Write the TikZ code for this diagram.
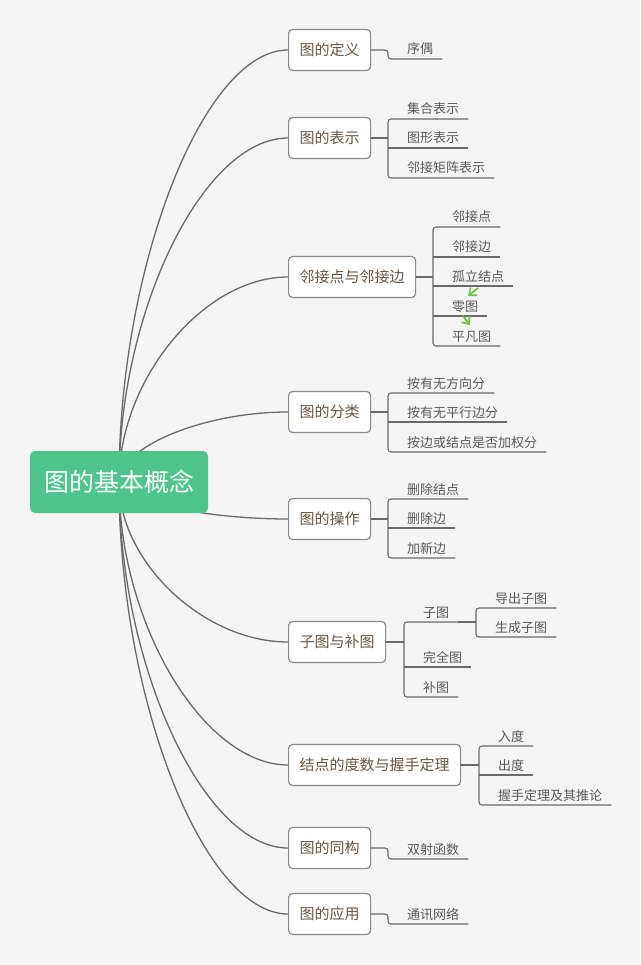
\documentclass[tikz,border=0pt]{standalone}
\usepackage{fontspec}
\newfontfamily\cjk{Noto Sans CJK SC}
\usepackage{tikz}
\usetikzlibrary{calc,backgrounds}
\usetikzlibrary{arrows.meta}
\definecolor{paper}{HTML}{F5F5F5}
\definecolor{rootgreen}{HTML}{50C48D}
\definecolor{linegray}{HTML}{6A6A6A}
\definecolor{boxgray}{HTML}{8C8C8C}
\definecolor{topicbrown}{HTML}{6B5743}
\definecolor{leafgray}{HTML}{5A5A5A}
\definecolor{hintgreen}{HTML}{6CC644}
\tikzstyle{root}=[fill=rootgreen, rounded corners=5pt, minimum width=178pt, minimum height=62pt, text=white, font=\cjk\fontsize{25}{25}\selectfont]
\tikzstyle{topic}=[draw=boxgray, fill=white, line width=1.2pt, rounded corners=4pt, minimum height=41pt, inner xsep=11pt, anchor=west, text=topicbrown, font=\cjk\fontsize{15}{15}\selectfont]
\tikzstyle{leaf}=[inner sep=0pt, anchor=base west, text=leafgray, font=\cjk\fontsize{13}{13}\selectfont]
\tikzstyle{limb}=[draw=linegray, line width=1.3pt]
\tikzstyle{twig}=[draw=linegray, line width=1.1pt, rounded corners=3pt]
\tikzstyle{hint}=[draw=hintgreen, line width=1.7pt, -{Straight Barb[length=6pt,width=10pt]}]
% leaf: name, bracket x, underline y, text
\newcommand{\mapleaf}[4]{
 \node[leaf] (#1) at (#2+19,#3-5) {#4};
 \coordinate (#1-w) at (#2,#3);
 \coordinate (#1-e) at ($(#1.base east)+(9,5)$);
}
% curve from the root to a topic
\newcommand{\maplimb}[1]{
 \draw[limb] let \p1=(root.center), \p2=(#1.west) in
  (\p1) .. controls (\x1,{(\y1+\y2)/2}) and ({(\x1+\x2)/2},\y2) .. (\p2);
}

\begin{document}
\begin{tikzpicture}[x=1pt,y=-1pt]
 \useasboundingbox (0,0) rectangle (640,965);
 \begin{scope}[on background layer]
  \fill[paper] (0,0) rectangle (640,965);
 \end{scope}
%
 \node[root] (root) at (119,482) {图的基本概念};
%
 \node[topic] (def) at (288,50) {图的定义};
 \node[topic] (rep) at (288,138) {图的表示};
 \node[topic] (adj) at (288,277) {邻接点与邻接边};
 \node[topic] (cls) at (288,412) {图的分类};
 \node[topic] (ops) at (288,519) {图的操作};
 \node[topic] (sub) at (288,642) {子图与补图};
 \node[topic] (deg) at (288,765) {结点的度数与握手定理};
 \node[topic] (iso) at (288,848) {图的同构};
 \node[topic] (app) at (288,914) {图的应用};
%
 \begin{scope}[on background layer]
  \foreach \t in {def,rep,adj,cls,ops,sub,deg,iso,app} {\maplimb{\t}}
 \end{scope}
%
 \mapleaf{def1}{388}{59}{序偶}
 \mapleaf{rep1}{388}{119}{集合表示}
 \mapleaf{rep2}{388}{148}{图形表示}
 \mapleaf{rep3}{388}{178}{邻接矩阵表示}
 \mapleaf{adj1}{433}{227}{邻接点}
 \mapleaf{adj2}{433}{257}{邻接边}
 \mapleaf{adj3}{433}{286}{孤立结点}
 \mapleaf{adj4}{433}{316}{零图}
 \mapleaf{adj5}{433}{346}{平凡图}
 \mapleaf{cls1}{388}{393}{按有无方向分}
 \mapleaf{cls2}{388}{422}{按有无平行边分}
 \mapleaf{cls3}{388}{452}{按边或结点是否加权分}
 \mapleaf{ops1}{388}{499}{删除结点}
 \mapleaf{ops2}{388}{528}{删除边}
 \mapleaf{ops3}{388}{558}{加新边}
 \mapleaf{sub1}{404}{622}{子图}
 \mapleaf{sub2}{404}{667}{完全图}
 \mapleaf{sub3}{404}{697}{补图}
 \mapleaf{gen1}{476}{608}{导出子图}
 \mapleaf{gen2}{476}{637}{生成子图}
 \mapleaf{deg1}{479}{746}{入度}
 \mapleaf{deg2}{479}{775}{出度}
 \mapleaf{deg3}{479}{805}{握手定理及其推论}
 \mapleaf{iso1}{388}{859}{双射函数}
 \mapleaf{app1}{388}{924}{通讯网络}
%
 \draw[twig] (def.east) -- (def.east -| def1-w) -- (def1-w) -- (def1-e);
 \draw[twig] (iso.east) -- (iso.east -| iso1-w) -- (iso1-w) -- (iso1-e);
 \draw[twig] (app.east) -- (app.east -| app1-w) -- (app1-w) -- (app1-e);
%
 \draw[twig] (rep.east) -- (rep.east -| rep1-w);
 \draw[twig] (rep1-e) -- (rep1-w) -- (rep3-w) -- (rep3-e);
 \draw[twig] (rep2-w) -- (rep2-e);
%
 \draw[twig] (adj.east) -- (adj.east -| adj1-w);
 \draw[twig] (adj1-e) -- (adj1-w) -- (adj5-w) -- (adj5-e);
 \foreach \i in {2,3,4} {\draw[twig] (adj\i-w) -- (adj\i-e);}
%
 \draw[twig] (cls.east) -- (cls.east -| cls1-w);
 \draw[twig] (cls1-e) -- (cls1-w) -- (cls3-w) -- (cls3-e);
 \draw[twig] (cls2-w) -- (cls2-e);
%
 \draw[twig] (ops.east) -- (ops.east -| ops1-w);
 \draw[twig] (ops1-e) -- (ops1-w) -- (ops3-w) -- (ops3-e);
 \draw[twig] (ops2-w) -- (ops2-e);
%
 \draw[twig] (sub.east) -- (sub.east -| sub1-w);
 \draw[twig] (sub1-e) -- (sub1-w) -- (sub3-w) -- (sub3-e);
 \draw[twig] (sub2-w) -- (sub2-e);
 \draw[twig] (sub1-e) -- (sub1-e -| gen1-w);
 \draw[twig] (gen1-e) -- (gen1-w) -- (gen2-w) -- (gen2-e);
%
 \draw[twig] (deg.east) -- (deg.east -| deg1-w);
 \draw[twig] (deg1-e) -- (deg1-w) -- (deg3-w) -- (deg3-e);
 \draw[twig] (deg2-w) -- (deg2-e);
%
 \draw[hint] (478,288) -- (468,296);
 \draw[hint] (463,316) -- (470,325);
\end{tikzpicture}
\end{document}
